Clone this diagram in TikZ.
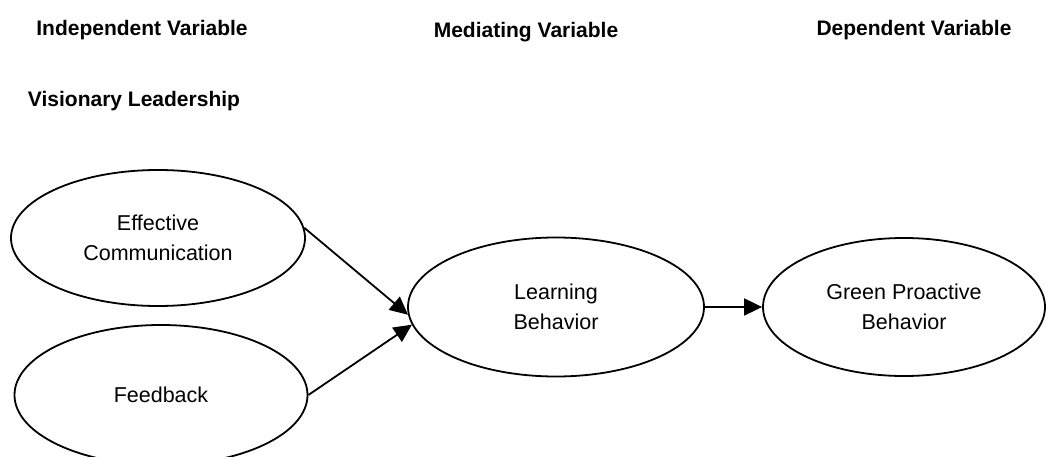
\documentclass[tikz,border=0pt]{standalone}
\usepackage{fontspec}
\setmainfont{Liberation Sans}
\usetikzlibrary{shapes.geometric,arrows.meta}
\begin{document}
\begin{tikzpicture}[x=1pt,y=-1pt,
  header/.style={font=\fontsize{21}{24}\selectfont\bfseries, inner sep=0pt, anchor=center},
  oval/.style={ellipse, draw, line width=1.8pt, inner sep=0pt, align=center,
    font=\fontsize{21.5}{30}\selectfont},
  link/.style={line width=1.8pt, -{Triangle[length=18pt,width=17pt]}}]
\useasboundingbox (0,0) rectangle (1046,457);
\clip (0,0) rectangle (1046,457);
\node[header] (iv) at (142,30) {Independent Variable};
\node[header] (mv) at (526,32) {Mediating Variable};
\node[header] (dv) at (914,30) {Dependent Variable};
\node[header] (vl) at (134,101) {Visionary Leadership};
\node[oval, minimum width=294pt, minimum height=136pt] (ec) at (158,238) {Effective\\Communication};
\node[oval, minimum width=293pt, minimum height=140pt] (fb) at (161,395) {Feedback};
\node[oval, minimum width=296pt, minimum height=139pt] (lb) at (556,307) {Learning\\Behavior};
\node[oval, minimum width=282pt, minimum height=138pt] (gp) at (904,307) {Green Proactive\\Behavior};
\draw[link] (ec.4) -- (lb.183);
\draw[link] (fb.east) -- (lb.187);
\draw[link] (lb.east) -- (gp.west);
\end{tikzpicture}
\end{document}
